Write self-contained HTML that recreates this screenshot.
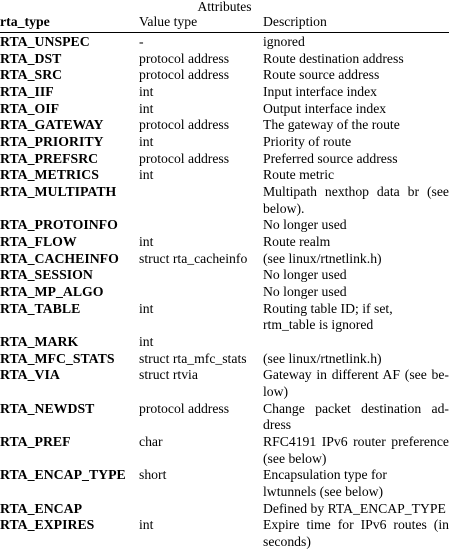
<!DOCTYPE html>
<html><head><meta charset="utf-8"><style>
body{margin:0;width:449px;height:549px;background:#fff;overflow:hidden;font-family:"Liberation Serif",serif;font-size:13.7px;color:#000;position:relative}
.l{position:absolute;height:16px;line-height:16px;white-space:nowrap}
.a{left:0;font-weight:bold;font-size:13.8px}.b{left:139px}.c{left:263px}
.j{width:186px;text-align:justify;text-align-last:justify;white-space:normal}
</style></head><body>
<div class="l" style="left:0;width:449px;text-align:center;top:-1px;font-size:13.5px">Attributes</div>
<div class="l a" style="top:14px">rta_type</div>
<div class="l b" style="top:14px;font-weight:normal">Value type</div>
<div class="l c" style="top:14px">Description</div>
<div style="position:absolute;left:0;top:32px;width:449px;height:1px;background:#000"></div>
<div id="rows"></div>
<script>
const rows=[
[0,"RTA_UNSPEC","-","ignored"],
[1,"RTA_DST","protocol address","Route destination address"],
[2,"RTA_SRC","protocol address","Route source address"],
[3,"RTA_IIF","int","Input interface index"],
[4,"RTA_OIF","int","Output interface index"],
[5,"RTA_GATEWAY","protocol address","The gateway of the route"],
[6,"RTA_PRIORITY","int","Priority of route"],
[7,"RTA_PREFSRC","protocol address","Preferred source address"],
[8,"RTA_METRICS","int","Route metric"],
[9,"RTA_MULTIPATH","","*Multipath nexthop data br (see","below)."],
[11,"RTA_PROTOINFO","","No longer used"],
[12,"RTA_FLOW","int","Route realm"],
[13,"RTA_CACHEINFO","struct rta_cacheinfo","(see linux/rtnetlink.h)"],
[14,"RTA_SESSION","","No longer used"],
[15,"RTA_MP_ALGO","","No longer used"],
[16,"RTA_TABLE","int","Routing table ID; if set,","rtm_table is ignored"],
[18,"RTA_MARK","int",""],
[19,"RTA_MFC_STATS","struct rta_mfc_stats","(see linux/rtnetlink.h)"],
[20,"RTA_VIA","struct rtvia","*Gateway in different AF (see be-","low)"],
[22,"RTA_NEWDST","protocol address","*Change packet destination ad-","dress"],
[24,"RTA_PREF","char","*RFC4191 IPv6 router preference","(see below)"],
[26,"RTA_ENCAP_TYPE","short","Encapsulation type for","lwtunnels (see below)"],
[28,"RTA_ENCAP","","Defined by RTA_ENCAP_TYPE"],
[29,"RTA_EXPIRES","int","*Expire time for IPv6 routes (in","seconds)"]
];
const root=document.getElementById('rows');
function add(cls,top,txt,name){
 const d=document.createElement('div');
 d.className='l '+cls;d.style.top=top+'px';d.textContent=txt;
 
 
 root.appendChild(d);
}
rows.forEach(r=>{
 const top=34+r[0]*16.67;
 const n=r[1].toLowerCase().replace(/_/g,'-');
 add('a',top,r[1],n+'-name');
 if(r[2])add('b',top,r[2],n+'-value-type');
 let d=r[3];let j='';
 if(d.startsWith('*')){d=d.slice(1);j=' j';}
 if(d)add('c'+j,top,d,n+'-description');
 if(r[4])add('c',top+16.67,r[4],n+'-description-cont');
});
</script>
</body></html>
